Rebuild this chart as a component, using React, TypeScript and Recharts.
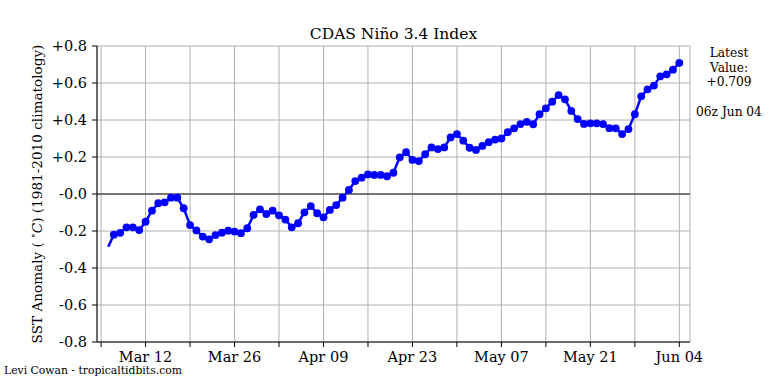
import React from "react";
import {
  LineChart,
  Line,
  XAxis,
  YAxis,
  CartesianGrid,
  ReferenceLine,
} from "recharts";

// Days counted from Mar 05 (day 0). First point is the line start (no marker).
const startDay = 1.13;
const startValue = -0.285;

// Daily Niño 3.4 anomalies, Mar 07 .. Jun 04
const anomalies = [
  -0.22, -0.21, -0.18, -0.18, -0.195, -0.15, -0.09, -0.05, -0.045, -0.02,
  -0.02, -0.077, -0.168, -0.197, -0.23, -0.245, -0.222, -0.209, -0.198, -0.203,
  -0.212, -0.185, -0.113, -0.083, -0.108, -0.09, -0.115, -0.138, -0.18, -0.158,
  -0.099, -0.065, -0.104, -0.126, -0.086, -0.06, -0.02, 0.022, 0.07, 0.088,
  0.106, 0.103, 0.103, 0.096, 0.115, 0.198, 0.226, 0.184, 0.178, 0.215,
  0.252, 0.243, 0.252, 0.306, 0.324, 0.288, 0.25, 0.238, 0.26, 0.28,
  0.294, 0.3, 0.334, 0.355, 0.378, 0.39, 0.377, 0.431, 0.463, 0.499,
  0.535, 0.512, 0.449, 0.405, 0.379, 0.382, 0.382, 0.378, 0.356, 0.355,
  0.324, 0.351, 0.431, 0.528, 0.566, 0.586, 0.636, 0.647, 0.672, 0.709,
];

const xTicks = [0, 7, 14, 21, 28, 35, 42, 49, 56, 63, 70, 77, 84, 91];
const xTickLabels: Record<number, string> = {
  7: "Mar 12",
  21: "Mar 26",
  35: "Apr 09",
  49: "Apr 23",
  63: "May 07",
  77: "May 21",
  91: "Jun 04",
};
const yTicks = [-0.8, -0.6, -0.4, -0.2, 0, 0.2, 0.4, 0.6, 0.8];

const data = [
  { day: startDay, value: startValue },
  ...anomalies.map((v, i) => ({ day: i + 2, value: v })),
];

const FONT = "'DejaVu Serif', serif";
const xDomain = [-0.645, 92.68];

const fmtY = (v: number) => {
  if (v > 0.001) return `+${v.toFixed(1)}`;
  if (v < -0.001) return v.toFixed(1);
  return "-0.0";
};

const renderDot = (props: any) => {
  const { cx, cy, index } = props;
  if (index === 0) return <g key={`d-${index}`} />;
  return <circle key={`d-${index}`} cx={cx} cy={cy} r={3.9} fill="#0000ff" stroke="none" />;
};

export default function App() {
  const tickStyle = { fill: "#000", fontFamily: FONT, fontSize: 14.5 };
  return (
    <div
      style={{
        position: "absolute",
        left: 0,
        top: 0,
        width: 768,
        height: 384,
        background: "#fff",
        fontFamily: FONT,
        color: "#000",
      }}
    >
      <LineChart
        width={768}
        height={384}
        data={data}
        margin={{ top: 46, right: 78, bottom: 12, left: 47 }}
      >
        <CartesianGrid stroke="#b0b0b0" strokeWidth={1} />
        <XAxis
          dataKey="day"
          type="number"
          domain={xDomain}
          allowDataOverflow
          ticks={xTicks}
          interval={0}
          tickFormatter={(d: number) => xTickLabels[d] ?? ""}
          tick={tickStyle}
          tickSize={5}
          tickMargin={5}
          height={30}
          axisLine={{ stroke: "#000" }}
          tickLine={{ stroke: "#000" }}
        />
        <XAxis
          xAxisId="top"
          orientation="top"
          type="number"
          domain={xDomain}
          tick={false}
          tickLine={false}
          height={0}
          axisLine={{ stroke: "#000" }}
        />
        <YAxis
          type="number"
          domain={[-0.8, 0.8]}
          ticks={yTicks}
          interval={0}
          tickFormatter={fmtY}
          tick={tickStyle}
          tickSize={5}
          tickMargin={5}
          width={50}
          axisLine={{ stroke: "#000" }}
          tickLine={{ stroke: "#000" }}
        />
        <YAxis
          yAxisId="right"
          orientation="right"
          domain={[0, 1]}
          tick={false}
          tickLine={false}
          width={0}
          axisLine={{ stroke: "#000" }}
        />
        <ReferenceLine y={0} stroke="#555" strokeWidth={1.5} />
        <Line
          type="linear"
          dataKey="value"
          stroke="#0000ff"
          strokeWidth={2.5}
          dot={renderDot}
          activeDot={false}
          isAnimationActive={false}
        />
      </LineChart>

      {/* Title */}
      <div
        style={{
          position: "absolute",
          left: 97,
          width: 593,
          top: 25,
          textAlign: "center",
          fontSize: 15.5,
          lineHeight: "18px",
        }}
      >
        CDAS Niño 3.4 Index
      </div>

      {/* Y axis label */}
      <div
        style={{
          position: "absolute",
          left: 37 - 160,
          top: 194 - 10,
          width: 320,
          height: 20,
          lineHeight: "20px",
          textAlign: "center",
          fontSize: 13.6,
          transform: "rotate(-90deg)",
          whiteSpace: "nowrap",
        }}
      >
        SST Anomaly ( <sup style={{ fontSize: 9.5, lineHeight: 0 }}>∘</sup>
        <i>C</i>) (1981-2010 climatology)
      </div>

      {/* Latest value box */}
      <div
        style={{
          position: "absolute",
          left: 690,
          width: 78,
          top: 46,
          textAlign: "center",
          fontSize: 12.2,
          lineHeight: "14.7px",
        }}
      >
        Latest
        <br />
        Value:
        <br />
        +0.709
        <br />
        <br />
        06z Jun 04
      </div>

      {/* Credit */}
      <div
        style={{
          position: "absolute",
          left: 4,
          top: 365,
          fontSize: 10.8,
          lineHeight: "11px",
          whiteSpace: "nowrap",
        }}
      >
        Levi Cowan - tropicaltidbits.com
      </div>
    </div>
  );
}
